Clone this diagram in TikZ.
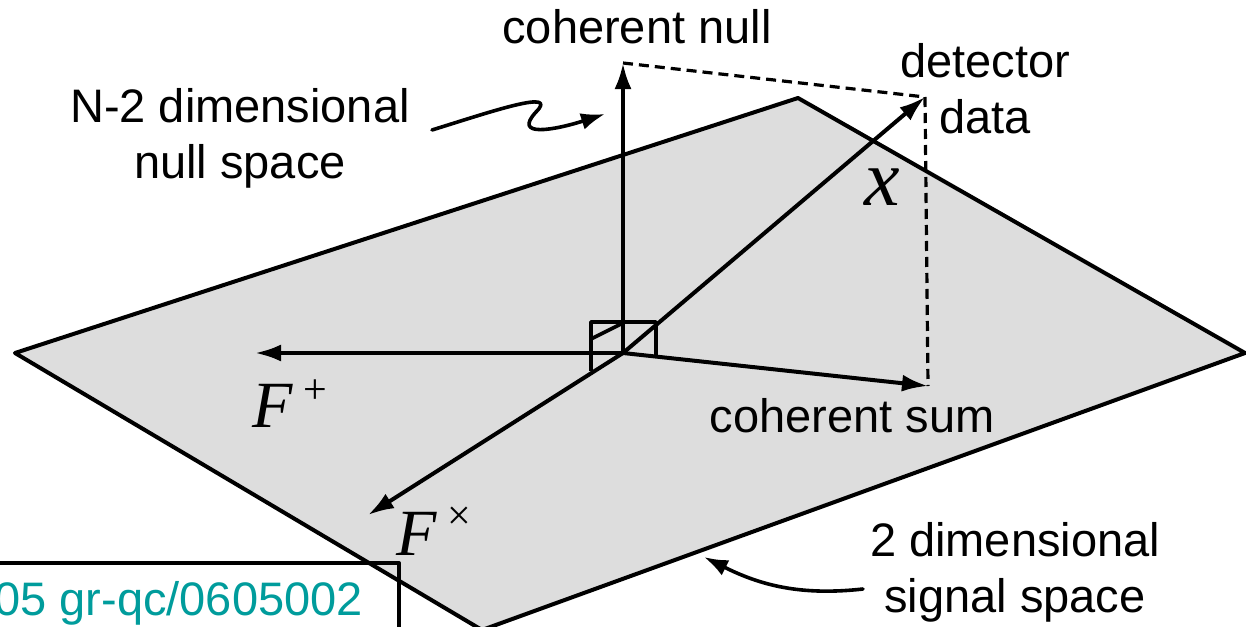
\documentclass[tikz,border=0pt]{standalone}
\usepackage{fontspec}
\setmainfont{Liberation Sans}
\newfontfamily\serifit{Liberation Serif}
\usetikzlibrary{arrows.meta}
\newcommand{\Unit}{1pt}
\newcommand{\Edge}{4pt}
\newcommand{\LabelSize}{\fontsize{47}{56}\selectfont}
\definecolor{plane}{HTML}{DDDDDD}
\definecolor{ink}{HTML}{000000}
\definecolor{tealref}{HTML}{009C9C}

\begin{document}
\begin{tikzpicture}[x=\Unit,y=-\Unit, line join=round, line cap=round,
  axis/.style={ink,line width=\Edge,-{Latex[length=26pt,width=17pt]}},
  pointer/.style={ink,line width=3.6pt,-{Latex[length=24pt,width=17pt]}},
  proj/.style={ink,line width=3.2pt,dash pattern=on 10pt off 6pt,line cap=butt},
  lbl/.style={font=\LabelSize,inner sep=0pt,align=center},
  sym/.style={inner sep=0pt,anchor=base}]

  \clip (0,0) rectangle (1246,626);
  \useasboundingbox (0,0) rectangle (1246,626);

  % ---- points -------------------------------------------------------------
  \coordinate (O) at (623,353);
  \coordinate (nulltip) at (623,63);
  \coordinate (plustip) at (255,353);
  \coordinate (crosstip) at (368,515);
  \coordinate (sumtip) at (928,386);
  \coordinate (datatip) at (925,97);

  % ---- reference box, under the plane -------------------------------------
  \fill[white] (-10,563) rectangle (399,640);

  % ---- the signal plane ---------------------------------------------------
  \filldraw[fill=plane,draw=ink,line width=\Edge]
    (15,353) -- (798,98) -- (1245,353) -- (482,630) -- cycle;

  \draw[ink,line width=3.4pt] (-10,563) -- (399,563) -- (399,640);
  \node[anchor=base east,inner sep=0pt,text=tealref,font=\LabelSize]
    (ref) at (363,615) {05 gr-qc/0605002};

  % ---- right-angle marks --------------------------------------------------
  \draw[ink,line width=3.6pt,line cap=butt]
    (591,371) -- (591,322) -- (656,322) -- (656,357);
  \draw[ink,line width=3.6pt] (591,339) -- (623,323);

  % ---- axes ---------------------------------------------------------------
  \draw[axis] (O) -- (nulltip);
  \draw[axis] (O) -- (plustip);
  \draw[axis] (O) -- (crosstip);
  \draw[axis] (O) -- (sumtip);
  \draw[axis] (O) -- (datatip);

  % ---- projections --------------------------------------------------------
  \draw[proj] (nulltip) -- (datatip);
  \draw[proj] (datatip) -- (sumtip);

  % ---- labels -------------------------------------------------------------
  \node[lbl,anchor=base] (nulllbl) at (637,44) {coherent null};
  \node[lbl,anchor=base] (datalbl) at (985,133) {detector\\data};
  \node[lbl,anchor=base] (spacelbl) at (240,178) {N-2 dimensional\\null space};
  \node[lbl,anchor=base] (sumlbl) at (852,432) {coherent sum};
  \node[lbl,anchor=base] (signallbl) at (1015,612) {2 dimensional\\signal space};

  \node[sym] (xlbl) at (882,205) {\fontsize{80}{80}\selectfont\serifit\itshape x};
  \node[sym] (pluslbl) at (290,427)
    {\fontsize{66}{66}\selectfont\serifit\itshape F\,\raisebox{24pt}{\fontsize{42}{42}\selectfont\upshape +}};
  \node[sym] (crosslbl) at (434,555)
    {\fontsize{66}{66}\selectfont\serifit\itshape F\,\raisebox{26pt}{\fontsize{42}{42}\selectfont\upshape ×}};

  % ---- pointers -----------------------------------------------------------
  \coordinate (spacefrom) at (432,130);
  \coordinate (spaceto) at (605,114);
  \draw[pointer] (spacefrom) .. controls (490,112) and (560,88) .. (536,112)
    .. controls (512,138) and (555,130) .. (spaceto);
  \coordinate (signalfrom) at (863,589);
  \coordinate (signalto) at (704,557);
  \draw[pointer] (signalfrom) .. controls (800,596) and (760,585) .. (signalto);

\end{tikzpicture}
\end{document}
